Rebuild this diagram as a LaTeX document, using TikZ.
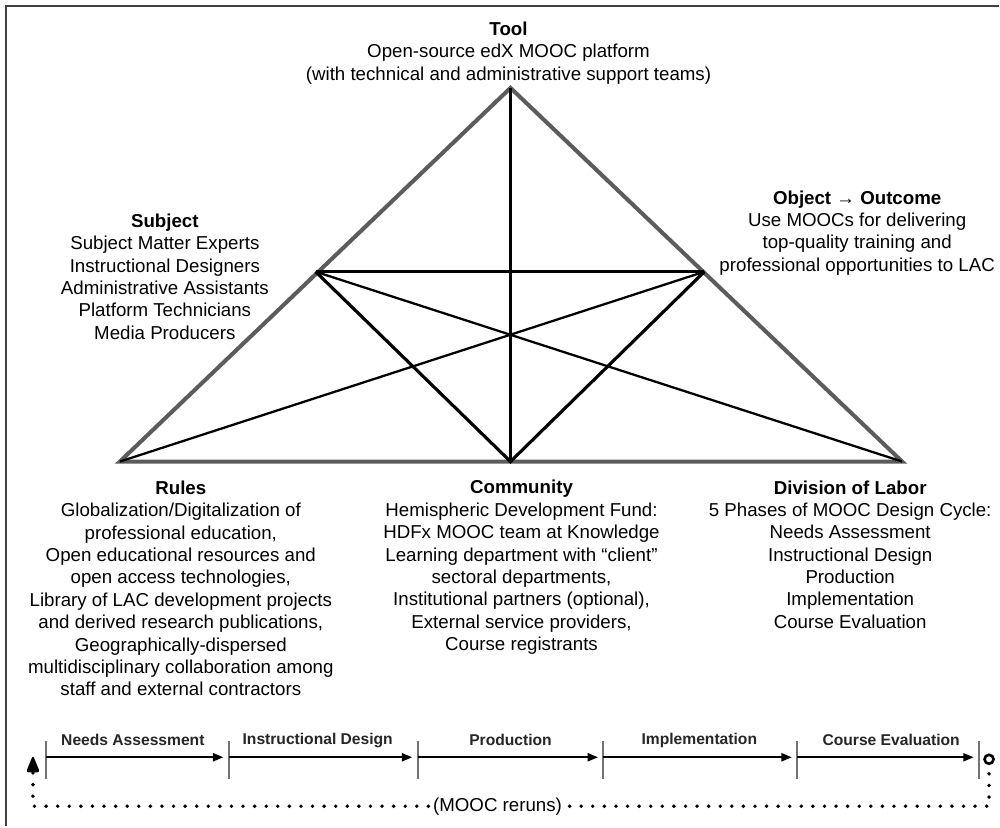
\documentclass[tikz,border=0pt]{standalone}
\usepackage{fontspec}
\setmainfont{Liberation Sans}
\usetikzlibrary{arrows.meta}
\definecolor{edge}{HTML}{5C5C5C}
\tikzset{
	ol/.style={draw=edge, line width=2.3pt},
	ln/.style={line width=1.3pt},
	lt/.style={line width=1.8pt},
	tx/.style={align=center, inner sep=0pt, font=\fontsize{10.65}{12.75}\selectfont},
	ph/.style={inner sep=0pt, text=black!85, font=\fontsize{8.9}{10}\selectfont\bfseries},
	tk/.style={draw=black!55, line width=1.1pt},
	ar/.style={line width=1.3pt, -{Triangle[length=6pt,width=4.5pt]}, shorten >=3pt},
	dt/.style={line width=2.2pt, line cap=round, dash pattern=on 0pt off 6.6pt},
	rng/.style={circle, draw, line width=1.5pt, minimum size=0.18cm, inner sep=0pt},
}

\begin{document}
\begin{tikzpicture}[x=0.02cm, y=-0.02cm]
	\path[fill=white] (0,0) rectangle (1000,827);
	\draw[draw=black!75, line width=1.1pt] (6,827) -- (6,6) -- (1000,6);

	\coordinate (tool) at (511,88);
	\coordinate (subj) at (316,272);
	\coordinate (obj) at (705,272);
	\coordinate (rules) at (120,462);
	\coordinate (com) at (511,462);
	\coordinate (div) at (903,462);

	\draw[ol] (tool) -- (div) -- (rules) -- cycle;
	\draw[ln] (tool) -- (com);
	\draw[lt] (subj) -- (obj);
	\draw[lt] (subj) -- (com) -- (obj);
	\draw[ln] (subj) -- (div);
	\draw[ln] (obj) -- (rules);

	\node[tx] (tooltx) at (509,53) {\textbf{Tool}\\Open-source edX MOOC platform\\(with technical and administrative support teams)};
	\node[tx] (subjtx) at (165,277) {\textbf{Subject}\\Subject Matter Experts\\Instructional Designers\\Administrative Assistants\\Platform Technicians\\Media Producers};
	\node[tx] (objtx) at (858,233) {\textbf{Object → Outcome}\\Use MOOCs for delivering\\top-quality training and\\professional opportunities to LAC};
	\node[tx] (rulestx) at (181,589) {\textbf{Rules}\\Globalization/Digitalization of\\professional education,\\Open educational resources and\\open access technologies,\\Library of LAC development projects\\and derived research publications,\\Geographically-dispersed\\multidisciplinary collaboration among\\staff and external contractors};
	\node[tx] (comtx) at (522,568) {\textbf{Community}\\Hemispheric Development Fund:\\HDFx MOOC team at Knowledge\\Learning department with “client”\\sectoral departments,\\Institutional partners (optional),\\External service providers,\\Course registrants};
	\node[tx] (divtx) at (851,555) {\textbf{Division of Labor}\\5 Phases of MOOC Design Cycle:\\Needs Assessment\\Instructional Design\\Production\\Implementation\\Course Evaluation};

	\coordinate (p0) at (46,758);
	\coordinate (p1) at (229,758);
	\coordinate (p2) at (418,758);
	\coordinate (p3) at (604,758);
	\coordinate (p4) at (798,758);
	\coordinate (p5) at (980,758);

	\draw[tk] (p0) ++(0,-16) -- ++(0,38);
	\draw[tk] (p1) ++(0,-16) -- ++(0,38);
	\draw[tk] (p2) ++(0,-16) -- ++(0,38);
	\draw[tk] (p3) ++(0,-16) -- ++(0,38);
	\draw[tk] (p4) ++(0,-16) -- ++(0,38);
	\draw[tk] (p5) ++(0,-16) -- ++(0,38);

	\draw[ar] (p0) -- (p1);
	\draw[ar] (p1) -- (p2);
	\draw[ar] (p2) -- (p3);
	\draw[ar] (p3) -- (p4);
	\draw[ar] (p4) -- (p5);

	\node[ph] (na) at (133,741) {Needs Assessment};
	\node[ph] (id) at (318,741) {Instructional Design};
	\node[ph] (pr) at (511,741) {Production};
	\node[ph] (im) at (700,741) {Implementation};
	\node[ph] (ce) at (892,741) {Course Evaluation};

	\node[tx, inner sep=2.5pt] (rerun) at (498,807) {(MOOC reruns)};
	\node[rng] (ring) at (990,760) {};
	\coordinate (tip) at (33,756);
	\coordinate (base) at (33,773);

	\draw[dt, shorten <=5pt] (ring.south) |- (rerun.east);
	\draw[dt] (rerun.west) -| (base);
	\fill[rounded corners=1.5pt] (tip) -- ++(-7,17) -- ++(14,0) -- cycle;
\end{tikzpicture}
\end{document}
